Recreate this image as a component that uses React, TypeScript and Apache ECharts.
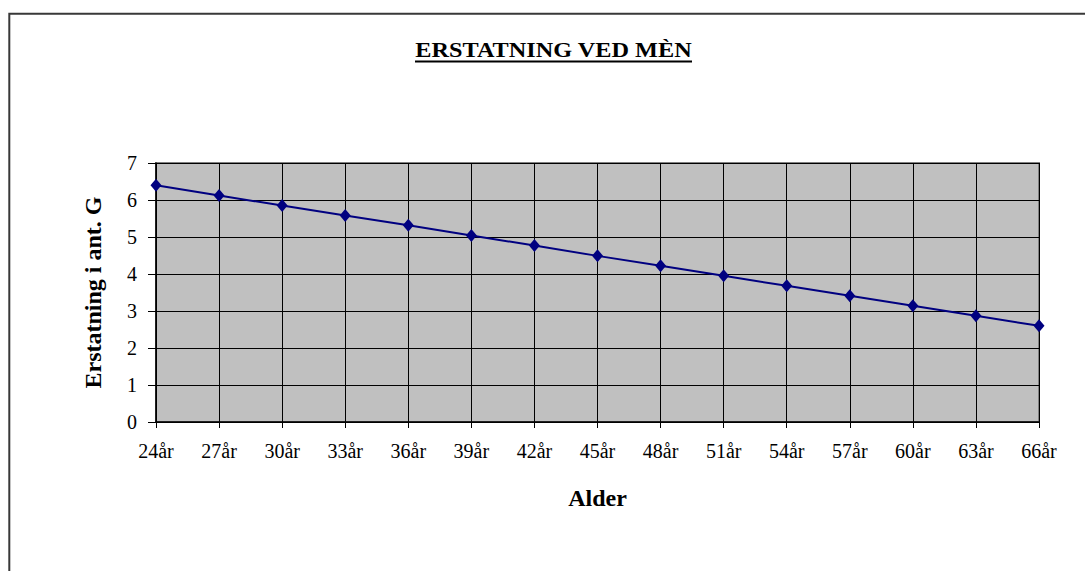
import React, { useEffect, useRef } from "react";
import * as echarts from "echarts";

const categories = ["24år", "27år", "30år", "33år", "36år", "39år", "42år", "45år", "48år", "51år", "54år", "57år", "60år", "63år", "66år"];
const values = [6.40, 6.12, 5.85, 5.58, 5.32, 5.04, 4.77, 4.49, 4.22, 3.95, 3.68, 3.41, 3.14, 2.87, 2.60];
const yTicks = { min: 0, max: 7, interval: 1 };
const titleText = "ERSTATNING VED MÈN";
const xName = "Alder";
const yName = "Erstatning i ant. G";

const FONT = '"Liberation Serif", "Times New Roman", serif';

function measure(text: string, font: string): number {
  const c = document.createElement("canvas").getContext("2d");
  if (!c) return text.length * 12;
  c.font = font;
  return c.measureText(text).width;
}

export default function App() {
  const ref = useRef<HTMLDivElement>(null);
  useEffect(() => {
    if (!ref.current) return;
    const chart = echarts.init(ref.current, undefined, { renderer: "svg" });
    const titleWidth = 277;
    const tw = measure(titleText, `bold 21px ${FONT}`);
    const sx = tw > 0 ? titleWidth / tw : 1;
    chart.setOption({
      animation: false,
      backgroundColor: "#ffffff",
      grid: {
        left: 156,
        top: 163,
        right: 46,
        bottom: 149,
        show: true,
        backgroundColor: "#C0C0C0",
        borderColor: "#808080",
        borderWidth: 2,
      },
      graphic: [
        {
          type: "rect",
          shape: { x: 9.3, y: 13.7, width: 1300, height: 1300 },
          style: { fill: "none", stroke: "#383838", lineWidth: 2 },
          silent: true,
        },
        {
          type: "text",
          x: 553.5,
          y: 50,
          scaleX: sx,
          style: {
            text: titleText,
            font: `bold 21px ${FONT}`,
            fill: "#000",
            textAlign: "center",
            textVerticalAlign: "middle",
          },
        },
        {
          type: "line",
          shape: { x1: 415, y1: 61.5, x2: 692, y2: 61.5 },
          style: { stroke: "#000", lineWidth: 2 },
        },
      ],
      xAxis: {
        type: "category",
        data: categories,
        boundaryGap: false,
        name: xName,
        nameLocation: "middle",
        nameGap: 64,
        nameTextStyle: { fontFamily: FONT, fontWeight: "bold", fontSize: 24, color: "#000", verticalAlign: "top" },
        axisLine: { show: true, lineStyle: { color: "#000", width: 1.5 } },
        axisTick: { show: true, length: 6, lineStyle: { color: "#000" } },
        axisLabel: { fontFamily: FONT, fontSize: 20, color: "#000", margin: 19, interval: 0 },
        splitLine: { show: true, lineStyle: { color: "#000", width: 1 } },
      },
      yAxis: {
        type: "value",
        min: yTicks.min,
        max: yTicks.max,
        interval: yTicks.interval,
        name: yName,
        nameLocation: "middle",
        nameGap: 51,
        nameRotate: 90,
        nameTextStyle: { fontFamily: FONT, fontWeight: "bold", fontSize: 24, color: "#000" },
        axisLine: { show: true, lineStyle: { color: "#000", width: 1.5 } },
        axisTick: { show: true, length: 8, inside: false, lineStyle: { color: "#000" } },
        axisLabel: { fontFamily: FONT, fontSize: 20, color: "#000", margin: 19 },
        splitLine: { show: true, lineStyle: { color: "#000", width: 1 } },
      },
      series: [
        {
          type: "line",
          data: values,
          symbol: "diamond",
          symbolSize: [11, 13],
          showSymbol: true,
          itemStyle: { color: "#000080" },
          lineStyle: { color: "#000080", width: 2 },
          z: 5,
        },
      ],
    });
    return () => chart.dispose();
  }, []);
  return (
    <div
      ref={ref}
      style={{ position: "fixed", left: 0, top: 0, width: 1085, height: 571, background: "#fff" }}
    />
  );
}
